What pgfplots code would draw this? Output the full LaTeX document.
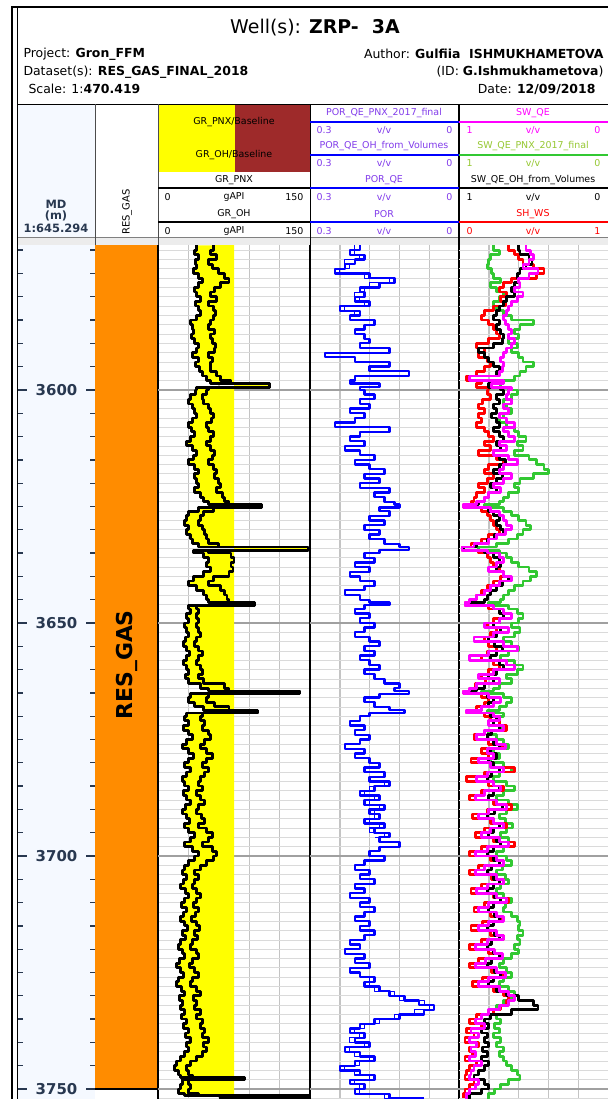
\documentclass[border=0pt]{standalone}
\usepackage{fontspec}
\setmainfont{DejaVu Sans}
\usepackage{pgfplots}
\usepackage{pgfplotstable}
\pgfplotsset{compat=1.18}

\definecolor{grYellow}{RGB}{255,255,0}
\definecolor{grBrown}{RGB}{158,42,42}
\definecolor{resOrange}{RGB}{255,140,0}
\definecolor{mdBack}{RGB}{245,249,255}
\definecolor{mdText}{RGB}{40,56,80}
\definecolor{porText}{RGB}{130,60,235}
\definecolor{swGreen}{RGB}{50,200,50}
\definecolor{swGreenText}{RGB}{150,200,50}
\definecolor{swMagenta}{RGB}{255,0,255}
\definecolor{gridMinor}{RGB}{218,218,218}
\definecolor{gridV}{RGB}{196,196,196}
\definecolor{gridMajor}{RGB}{160,160,160}
\definecolor{stripGray}{RGB}{236,236,236}

% gamma ray: GR_PNX (gr1) and GR_OH (gr2), gAPI
\pgfplotstableread{
depth gr1 gr2
3569 38 55
3570 36 52
3571 40 58
3572 37 50
3573 38 54
3574 35 60
3575 40 66
3576 44 70
3577 40 62
3578 36 56
3579 38 52
3580 42 58
3581 37 50
3582 40 55
3583 42 57
3584 38 55
3585 32 52
3586 34 50
3587 35 56
3588 33 52
3589 36 54
3590 40 57
3591 38 56
3592 34 50
3593 40 54
3594 37 52
3595 41 52
3596 44 58
3597 48 62
3598 52 72
3598.6 110 110
3599.4 38 50
3600 37 48
3601 32 44
3602 30 45
3603 34 50
3604 36 52
3605 38 55
3606 34 53
3607 30 48
3608 33 50
3609 36 55
3610 32 52
3611 28 48
3612 34 52
3613 38 56
3614 35 54
3615 30 50
3616 36 55
3617 40 58
3618 36 56
3619 38 60
3620 40 62
3621 36 58
3622 42 64
3623 45 66
3624 50 70
3624.6 102 102
3625.2 40 55
3626 30 45
3627 28 42
3628 26 40
3629 30 44
3630 28 46
3631 32 48
3632 34 50
3633 40 60
3633.7 148 148
3634.4 35 50
3635 45 72
3636 50 75
3637 48 72
3638 52 74
3639 45 70
3640 35 55
3641 30 50
3642 38 62
3643 45 66
3644 48 68
3645 50 70
3645.6 95 95
3646.2 30 38
3647 32 40
3648 28 38
3649 30 40
3650 26 38
3651 28 40
3652 30 42
3653 27 38
3654 25 36
3655 28 40
3656 31 44
3657 28 40
3658 25 38
3659 28 42
3660 30 44
3661 27 40
3662 30 45
3663 42 66
3664 50 70
3664.6 140 140
3665.2 32 50
3666 30 48
3667 36 56
3668 45 70
3668.7 98 98
3669.3 28 44
3670 26 42
3671 30 46
3672 25 44
3673 30 50
3674 34 52
3675 28 46
3676 24 42
3677 30 48
3678 35 54
3679 30 48
3680 26 44
3681 32 50
3682 28 46
3683 24 42
3684 26 40
3685 30 44
3686 25 38
3687 28 42
3688 32 46
3689 27 40
3690 24 38
3691 28 43
3692 31 46
3693 26 40
3694 30 48
3695 36 54
3696 32 50
3697 26 44
3698 34 54
3699 40 58
3700 36 55
3701 30 48
3702 26 42
3703 24 36
3704 28 40
3705 25 36
3706 22 34
3707 27 38
3708 30 42
3709 26 38
3710 23 35
3711 28 40
3712 25 37
3713 22 33
3714 26 38
3715 29 41
3716 24 36
3717 27 39
3718 22 34
3719 20 32
3720 24 38
3721 26 40
3722 21 34
3723 18 31
3724 22 36
3725 25 40
3726 20 34
3727 18 32
3728 23 38
3729 26 42
3730 21 35
3731 24 38
3732 22 36
3733 26 42
3734 23 38
3735 28 44
3736 25 42
3737 30 46
3738 27 44
3739 32 50
3740 28 45
3741 30 48
3742 26 44
3743 22 38
3744 18 32
3745 16 28
3746 20 30
3747 22 34
3747.5 85 85
3748 24 30
3749 22 32
3750 20 30
3751 26 40
3751.4 150 150
3752 60 80
}\grdata

% porosity, v/v
\pgfplotstableread{
depth por1 por2
3569 0.20 0.21
3570 0.22 0.21
3571 0.19 0.20
3572 0.21 0.23
3573 0.23 0.22
3574 0.25 0.24
3575 0.18 0.19
3576 0.13 0.14
3577 0.16 0.18
3578 0.20 0.19
3579 0.19 0.21
3580 0.21 0.20
3581 0.18 0.19
3582 0.24 0.23
3583 0.20 0.21
3584 0.22 0.20
3585 0.17 0.18
3586 0.19 0.20
3587 0.21 0.20
3588 0.19 0.18
3589 0.18 0.19
3590 0.20 0.21
3591 0.14 0.15
3592 0.27 0.25
3593 0.21 0.20
3594 0.14 0.15
3595 0.18 0.19
3596 0.10 0.12
3597 0.21 0.20
3598 0.22 0.21
3598.6 0.16 0.17
3599.4 0.20 0.21
3600 0.19 0.18
3601 0.17 0.18
3602 0.20 0.19
3603 0.18 0.19
3604 0.22 0.21
3605 0.19 0.20
3606 0.21 0.22
3607 0.25 0.24
3608 0.14 0.15
3609 0.20 0.19
3610 0.22 0.21
3611 0.19 0.20
3612 0.23 0.22
3613 0.20 0.21
3614 0.17 0.18
3615 0.21 0.20
3616 0.18 0.19
3617 0.15 0.16
3618 0.19 0.18
3619 0.16 0.17
3620 0.20 0.19
3621 0.14 0.15
3622 0.17 0.16
3623 0.15 0.16
3624 0.13 0.14
3624.6 0.12 0.11
3625.2 0.16 0.17
3626 0.14 0.15
3627 0.18 0.17
3628 0.15 0.16
3629 0.19 0.18
3630 0.16 0.17
3631 0.18 0.19
3632 0.15 0.16
3633 0.12 0.13
3633.7 0.10 0.09
3634.4 0.16 0.17
3635 0.19 0.18
3636 0.17 0.18
3637 0.21 0.20
3638 0.18 0.19
3639 0.22 0.21
3640 0.20 0.21
3641 0.17 0.18
3642 0.19 0.18
3643 0.23 0.22
3644 0.20 0.21
3645 0.18 0.17
3645.6 0.14 0.13
3646.2 0.19 0.20
3647 0.21 0.20
3648 0.18 0.19
3649 0.20 0.21
3650 0.17 0.18
3651 0.19 0.18
3652 0.21 0.20
3653 0.18 0.19
3654 0.16 0.17
3655 0.19 0.20
3656 0.17 0.16
3657 0.20 0.19
3658 0.18 0.19
3659 0.16 0.17
3660 0.19 0.18
3661 0.17 0.18
3662 0.15 0.16
3663 0.12 0.13
3664 0.13 0.12
3664.6 0.10 0.09
3665.2 0.16 0.17
3666 0.19 0.18
3667 0.17 0.18
3668 0.14 0.15
3668.7 0.11 0.12
3669.3 0.18 0.17
3670 0.20 0.19
3671 0.22 0.21
3672 0.19 0.20
3673 0.21 0.22
3674 0.18 0.19
3675 0.20 0.19
3676 0.23 0.22
3677 0.19 0.20
3678 0.21 0.20
3679 0.18 0.19
3680 0.16 0.17
3681 0.19 0.18
3682 0.15 0.16
3683 0.18 0.17
3684 0.14 0.15
3685 0.17 0.18
3686 0.20 0.19
3687 0.16 0.17
3688 0.19 0.18
3689 0.15 0.16
3690 0.18 0.17
3691 0.16 0.17
3692 0.19 0.18
3693 0.15 0.16
3694 0.17 0.18
3695 0.14 0.15
3696 0.16 0.17
3697 0.12 0.13
3698 0.16 0.15
3699 0.18 0.19
3700 0.15 0.16
3701 0.19 0.18
3702 0.21 0.20
3703 0.18 0.19
3704 0.20 0.21
3705 0.17 0.18
3706 0.21 0.20
3707 0.19 0.20
3708 0.22 0.21
3709 0.18 0.19
3710 0.20 0.19
3711 0.17 0.18
3712 0.19 0.20
3713 0.21 0.20
3714 0.18 0.19
3715 0.20 0.21
3716 0.17 0.18
3717 0.19 0.18
3718 0.22 0.21
3719 0.20 0.21
3720 0.23 0.22
3721 0.19 0.20
3722 0.21 0.20
3723 0.18 0.19
3724 0.22 0.21
3725 0.20 0.21
3726 0.17 0.18
3727 0.19 0.18
3728 0.16 0.17
3729 0.14 0.13
3730 0.11 0.12
3731 0.08 0.07
3732 0.05 0.06
3733 0.07 0.09
3734 0.12 0.13
3735 0.17 0.16
3736 0.20 0.19
3737 0.22 0.21
3738 0.19 0.20
3739 0.21 0.22
3740 0.18 0.19
3741 0.23 0.22
3742 0.20 0.21
3743 0.17 0.18
3744 0.21 0.20
3745 0.24 0.23
3746 0.20 0.21
3747 0.17 0.18
3748 0.22 0.21
3749 0.19 0.20
3750 0.21 0.20
3751 0.14 0.15
3752 0.07 0.08
}\pordata

% saturations, v/v: SW_QE_OH_from_Volumes, SW_QE_PNX_2017_final, SW_QE, SH_WS
\pgfplotstableread{
depth swoh swpnx swqe shws
3569 0.60 0.77 0.55 0.33
3570 0.59 0.73 0.52 0.37
3571 0.53 0.79 0.50 0.40
3572 0.51 0.80 0.53 0.43
3573 0.55 0.81 0.57 0.50
3574 0.59 0.78 0.47 0.57
3575 0.61 0.77 0.53 0.52
3576 0.60 0.72 0.60 0.35
3577 0.63 0.79 0.59 0.30
3578 0.65 0.75 0.63 0.27
3579 0.63 0.70 0.57 0.32
3580 0.68 0.73 0.61 0.28
3581 0.70 0.77 0.65 0.31
3582 0.73 0.75 0.67 0.23
3583 0.75 0.70 0.68 0.17
3584 0.77 0.65 0.70 0.15
3585 0.73 0.50 0.69 0.20
3586 0.75 0.59 0.67 0.23
3587 0.72 0.63 0.65 0.25
3588 0.70 0.60 0.67 0.27
3589 0.71 0.67 0.63 0.20
3590 0.77 0.61 0.65 0.12
3591 0.87 0.65 0.68 0.17
3592 0.83 0.60 0.70 0.13
3593 0.80 0.57 0.72 0.19
3594 0.77 0.50 0.70 0.21
3595 0.73 0.55 0.71 0.17
3596 0.75 0.59 0.73 0.12
3597 0.93 0.63 0.93 0.05
3598 0.73 0.70 0.70 0.15
3598.6 0.80 0.72 0.78 0.12
3599.4 0.72 0.67 0.65 0.20
3600 0.70 0.61 0.67 0.19
3601 0.75 0.65 0.68 0.21
3602 0.73 0.70 0.65 0.16
3603 0.77 0.68 0.70 0.13
3604 0.75 0.65 0.67 0.17
3605 0.78 0.70 0.73 0.13
3606 0.75 0.73 0.68 0.15
3607 0.73 0.68 0.63 0.12
3608 0.77 0.63 0.70 0.17
3609 0.73 0.60 0.67 0.20
3610 0.70 0.55 0.63 0.23
3611 0.75 0.61 0.73 0.17
3612 0.72 0.57 0.68 0.21
3613 0.77 0.63 0.77 0.13
3614 0.73 0.53 0.67 0.25
3615 0.69 0.48 0.61 0.30
3616 0.73 0.43 0.70 0.20
3617 0.77 0.40 0.73 0.17
3618 0.71 0.50 0.65 0.23
3619 0.75 0.59 0.70 0.19
3620 0.79 0.63 0.77 0.13
3621 0.75 0.60 0.72 0.17
3622 0.80 0.67 0.80 0.12
3623 0.83 0.70 0.83 0.10
3624 0.87 0.73 0.88 0.08
3624.6 0.95 0.83 0.97 0.03
3625.2 0.80 0.70 0.79 0.15
3626 0.77 0.65 0.73 0.19
3627 0.73 0.60 0.70 0.21
3628 0.75 0.55 0.68 0.23
3629 0.72 0.52 0.65 0.25
3630 0.70 0.57 0.69 0.27
3631 0.76 0.61 0.75 0.20
3632 0.81 0.67 0.80 0.15
3633 0.88 0.75 0.90 0.08
3633.7 0.97 0.87 0.98 0.02
3634.4 0.83 0.73 0.81 0.13
3635 0.77 0.68 0.73 0.19
3636 0.73 0.65 0.70 0.21
3637 0.72 0.60 0.75 0.23
3638 0.75 0.53 0.80 0.27
3639 0.70 0.48 0.70 0.30
3640 0.67 0.52 0.65 0.28
3641 0.71 0.57 0.73 0.23
3642 0.75 0.63 0.79 0.19
3643 0.79 0.67 0.83 0.15
3644 0.81 0.70 0.88 0.12
3645 0.83 0.72 0.93 0.08
3645.6 0.92 0.80 0.96 0.04
3646.2 0.77 0.67 0.77 0.20
3647 0.73 0.61 0.70 0.27
3648 0.70 0.57 0.65 0.30
3649 0.73 0.60 0.73 0.23
3650 0.77 0.65 0.83 0.19
3651 0.72 0.59 0.67 0.25
3652 0.75 0.63 0.77 0.21
3653 0.80 0.70 0.90 0.17
3654 0.76 0.65 0.70 0.20
3655 0.71 0.60 0.61 0.25
3656 0.75 0.67 0.80 0.19
3657 0.79 0.72 0.93 0.15
3658 0.73 0.63 0.68 0.23
3659 0.70 0.57 0.63 0.27
3660 0.75 0.61 0.77 0.20
3661 0.80 0.68 0.87 0.15
3662 0.77 0.65 0.73 0.18
3663 0.83 0.73 0.88 0.11
3664 0.88 0.77 0.93 0.07
3664.6 0.96 0.85 0.97 0.03
3665.2 0.81 0.70 0.80 0.15
3666 0.77 0.65 0.72 0.20
3667 0.80 0.68 0.77 0.17
3668 0.85 0.73 0.85 0.12
3668.7 0.93 0.81 0.95 0.05
3669.3 0.79 0.70 0.77 0.17
3670 0.75 0.73 0.73 0.21
3671 0.77 0.77 0.80 0.27
3672 0.73 0.71 0.70 0.32
3673 0.78 0.80 0.83 0.17
3674 0.81 0.75 0.88 0.10
3675 0.77 0.70 0.75 0.20
3676 0.73 0.67 0.69 0.29
3677 0.79 0.77 0.81 0.15
3678 0.75 0.73 0.77 0.20
3679 0.80 0.79 0.87 0.08
3680 0.77 0.70 0.79 0.23
3681 0.73 0.65 0.70 0.37
3682 0.78 0.73 0.81 0.17
3683 0.81 0.77 0.88 0.05
3684 0.77 0.68 0.77 0.20
3685 0.73 0.63 0.72 0.30
3686 0.77 0.70 0.83 0.15
3687 0.80 0.75 0.89 0.07
3688 0.75 0.67 0.75 0.23
3689 0.71 0.61 0.68 0.35
3690 0.76 0.68 0.80 0.19
3691 0.81 0.73 0.87 0.09
3692 0.77 0.69 0.77 0.21
3693 0.73 0.64 0.70 0.32
3694 0.77 0.68 0.79 0.17
3695 0.80 0.72 0.85 0.11
3696 0.75 0.67 0.73 0.23
3697 0.72 0.63 0.67 0.37
3698 0.77 0.70 0.81 0.15
3699 0.81 0.75 0.89 0.07
3700 0.77 0.68 0.75 0.21
3701 0.73 0.65 0.70 0.30
3702 0.78 0.71 0.83 0.13
3703 0.81 0.75 0.89 0.07
3704 0.77 0.69 0.75 0.22
3705 0.73 0.67 0.70 0.30
3706 0.77 0.72 0.81 0.15
3707 0.81 0.75 0.88 0.08
3708 0.76 0.70 0.75 0.23
3709 0.72 0.65 0.68 0.33
3710 0.77 0.69 0.80 0.17
3711 0.80 0.70 0.87 0.10
3712 0.76 0.65 0.75 0.21
3713 0.73 0.61 0.70 0.28
3714 0.77 0.59 0.80 0.16
3715 0.81 0.60 0.87 0.08
3716 0.76 0.57 0.75 0.21
3717 0.73 0.61 0.70 0.30
3718 0.78 0.59 0.81 0.15
3719 0.81 0.63 0.89 0.07
3720 0.77 0.60 0.76 0.20
3721 0.73 0.65 0.71 0.28
3722 0.78 0.70 0.82 0.13
3723 0.81 0.73 0.89 0.07
3724 0.76 0.68 0.75 0.22
3725 0.72 0.65 0.69 0.30
3726 0.77 0.70 0.80 0.16
3727 0.80 0.73 0.87 0.09
3728 0.75 0.67 0.73 0.23
3729 0.68 0.63 0.67 0.30
3730 0.60 0.65 0.63 0.33
3731 0.50 0.70 0.67 0.32
3732 0.47 0.75 0.73 0.28
3733 0.65 0.77 0.80 0.23
3734 0.79 0.75 0.85 0.12
3735 0.83 0.72 0.89 0.07
3736 0.80 0.76 0.83 0.15
3737 0.85 0.73 0.92 0.05
3738 0.81 0.77 0.87 0.10
3739 0.83 0.72 0.93 0.04
3740 0.80 0.75 0.88 0.13
3741 0.84 0.70 0.92 0.07
3742 0.81 0.73 0.89 0.09
3743 0.85 0.70 0.93 0.04
3744 0.80 0.68 0.85 0.12
3745 0.83 0.65 0.90 0.07
3746 0.87 0.61 0.92 0.05
3747 0.90 0.59 0.93 0.04
3748 0.83 0.67 0.87 0.10
3749 0.80 0.72 0.89 0.07
3750 0.85 0.76 0.93 0.04
3751 0.93 0.80 0.95 0.03
3752 0.95 0.81 0.96 0.03
}\swdata

\pgfplotsset{
  depthrange/.style={
    scale only axis, anchor=north west, height=854bp,
    ymin=3568.9, ymax=3752.15, y dir=reverse,
  },
  logtrack/.style={
    depthrange,
    separate axis lines,
    x axis line style={draw=none},
    y axis line style={black, line width=1.2bp},
    grid=major,
    major x grid style={gridV, line width=1.4bp},
    major y grid style={gridMinor, line width=0.7bp},
    ytick={3570,3572,...,3752},
    extra y ticks={3600,3650,3700,3750},
    extra y tick style={grid=major, major y grid style={gridMajor, line width=1.1bp}},
    xticklabels={}, yticklabels={}, extra y tick labels={},
    tick label style={inner sep=0pt, outer sep=0pt},
    major tick length=0pt,
  },
  hiddentrack/.style={depthrange, axis lines=none},
  curve/.style={const plot mark right, line join=round},
}

\newcommand{\hdr}{\fontsize{9.5}{10}\selectfont}

\begin{document}
\begin{tikzpicture}
\path[use as bounding box] (0,0) rectangle (608bp,-1099bp);

\begin{scope}[x=1bp, y=-1bp]
  \fill[white] (0,0) rectangle (608,1099);
  % frame
  \draw[line width=2.5bp] (12,6) -- (12,1099);
  \draw[line width=2bp] (11,7) -- (608,7);
  \draw[line width=0.8bp] (17.5,8) -- (17.5,1099);
  % title block
  \node[font=\fontsize{19}{20}\selectfont] at (315,28) {Well(s): \textbf{ZRP-~~3A}};
  \begin{scope}[font=\fontsize{12.5}{13}\selectfont]
    \node[anchor=west] at (20,54) {Project: \textbf{Gron\_FFM}};
    \node[anchor=west] at (20,72) {Dataset(s): \textbf{RES\_GAS\_FINAL\_2018}};
    \node[anchor=west] at (25,89) {Scale: 1:\textbf{470.419}};
    \node[anchor=east] at (607,54) {Author: \textbf{Gulfiia~~ISHMUKHAMETOVA}};
    \node[anchor=east] at (607,72) {(ID: \textbf{G.Ishmukhametova})};
    \node[anchor=east] at (599,89) {Date: \textbf{12/09/2018}};
  \end{scope}
  \draw[line width=1bp] (17.5,104) -- (608,104);
  % track headers
  \fill[mdBack] (18,104.5) rectangle (95,237);
  \fill[grYellow] (158.5,104.5) rectangle (235,172);
  \fill[grBrown] (235,104.5) rectangle (310,172);
  \fill[stripGray] (18,237) rectangle (608,245);
  \draw[gray, line width=0.6bp] (18,237) -- (608,237);
  \draw[black!70, line width=0.8bp] (95,104) -- (95,245);
  \draw[black!70, line width=0.8bp] (158,104) -- (158,245);
  \draw[black, line width=1bp] (310,104) -- (310,245);
  \draw[black, line width=1.6bp] (459,104) -- (459,245);
  % depth header
  \begin{scope}[font=\fontsize{11.5}{12}\selectfont\bfseries, text=mdText]
    \node at (56,204) {MD};
    \node at (56,216) {(m)};
    \node at (56,228) {1:645.294};
  \end{scope}
  \node[rotate=90, font=\fontsize{10}{10}\selectfont, anchor=east] at (127,186) {RES\_GAS};
  % GR header
  \begin{scope}[font=\hdr]
    \node at (234,122) {GR\_PNX/Baseline};
    \node at (234,155) {GR\_OH/Baseline};
    \node at (234,180) {GR\_PNX};
    \draw[line width=2.5bp] (158,188) -- (310,188);
    \node[anchor=west] at (161,197) {0};
    \node at (234,197) {gAPI};
    \node[anchor=east] at (307,197) {150};
    \node at (234,214) {GR\_OH};
    \draw[line width=2.5bp] (158,222) -- (310,222);
    \node[anchor=west] at (161,231) {0};
    \node at (234,231) {gAPI};
    \node[anchor=east] at (307,231) {150};
  \end{scope}
  % POR header
  \begin{scope}[font=\hdr, text=porText]
    \node at (384,113) {POR\_QE\_PNX\_2017\_final};
    \draw[blue, line width=1.5bp] (310,122) -- (459,122);
    \node[anchor=west] at (313,130) {0.3};
    \node at (384,130) {v/v};
    \node[anchor=east] at (456,130) {0};
    \node at (384,146) {POR\_QE\_OH\_from\_Volumes};
    \draw[blue, line width=1.5bp] (310,155) -- (459,155);
    \node[anchor=west] at (313,163) {0.3};
    \node at (384,163) {v/v};
    \node[anchor=east] at (456,163) {0};
    \node at (384,180) {POR\_QE};
    \draw[blue, line width=1.5bp] (310,188) -- (459,188);
    \node[anchor=west] at (313,197) {0.3};
    \node at (384,197) {v/v};
    \node[anchor=east] at (456,197) {0};
    \node at (384,214) {POR};
    \draw[blue, line width=1.5bp] (310,222) -- (459,222);
    \node[anchor=west] at (313,231) {0.3};
    \node at (384,231) {v/v};
    \node[anchor=east] at (456,231) {0};
  \end{scope}
  % SW header
  \begin{scope}[font=\hdr]
    \node[text=swMagenta] at (533,113) {SW\_QE};
    \draw[swMagenta, line width=2bp] (459,122) -- (608,122);
    \node[anchor=west, text=swMagenta] at (463,130) {1};
    \node[text=swMagenta] at (533,130) {v/v};
    \node[anchor=east, text=swMagenta] at (604,130) {0};
    \node[text=swGreenText] at (533,146) {SW\_QE\_PNX\_2017\_final};
    \draw[swGreen, line width=2bp] (459,155) -- (608,155);
    \node[anchor=west, text=swGreenText] at (463,163) {1};
    \node[text=swGreenText] at (533,163) {v/v};
    \node[anchor=east, text=swGreenText] at (604,163) {0};
    \node at (533,180) {SW\_QE\_OH\_from\_Volumes};
    \draw[black, line width=2bp] (459,188) -- (608,188);
    \node[anchor=west] at (463,197) {1};
    \node at (533,197) {v/v};
    \node[anchor=east] at (604,197) {0};
    \node[text=red] at (533,214) {SH\_WS};
    \draw[red, line width=2bp] (459,222) -- (608,222);
    \node[anchor=west, text=red] at (463,231) {0};
    \node[text=red] at (533,231) {v/v};
    \node[anchor=east, text=red] at (604,231) {1};
  \end{scope}
\end{scope}

% depth track
\begin{axis}[depthrange, at={(18bp,-245bp)}, width=77bp,
  xmin=0, xmax=1,
  axis background/.style={fill=mdBack},
  axis line style={draw=none},
  xtick=\empty, ytick={3570,3575,...,3750}, yticklabels={},
  ytick pos=both, tick align=inside, major tick length=5bp,
  tick style={mdText, line width=1.3bp},
  extra y ticks={3600,3650,3700,3750}, extra y tick labels={},
  extra y tick style={major tick length=9bp},
  tick label style={inner sep=0pt, outer sep=0pt},
  clip=false]
  \pgfplotsinvokeforeach{3600,3650,3700,3750}{
    \node[font=\fontsize{15}{15}\selectfont\bfseries, text=mdText] at (axis cs:0.5,#1) {#1};
  }
\end{axis}

% zone track
\begin{axis}[depthrange, at={(95bp,-245bp)}, width=63bp, xmin=0, xmax=1, axis lines=none]
  \addplot[fill=resOrange, draw=none] coordinates {(0,3568.9) (1,3568.9) (1,3750) (0,3750)};
  \addplot[black, line width=1.2bp] coordinates {(0,3750) (1,3750)};
  \node[rotate=90, font=\fontsize{22}{22}\selectfont\bfseries] at (axis cs:0.5,3659) {RES\_GAS};
\end{axis}

% gamma ray track: GR_PNX shaded to the 75 gAPI baseline
\begin{axis}[logtrack, at={(158bp,-245bp)}, width=152bp,
  xmin=0, xmax=150, xtick={30,60,90,120}]
  \addplot[fill=grYellow, draw=none, curve] table[x=gr1, y=depth] {\grdata}
    -- (axis cs:75,3752.15) -- (axis cs:75,3568.9) -- cycle;
  \addplot[black, line width=2.8bp, curve] table[x=gr2, y=depth] {\grdata};
  \addplot[black, line width=2.8bp, curve] table[x=gr1, y=depth] {\grdata};
\end{axis}

% porosity track: the second log separates from the first only in a few intervals
\begin{axis}[logtrack, at={(310bp,-245bp)}, width=149bp,
  xmin=0, xmax=0.3, x dir=reverse, xtick={0.06,0.12,0.18,0.24}]
  \addplot[blue, line width=1.1bp, curve, restrict y to domain=3569:3584] table[x=por2, y=depth] {\pordata};
  \addplot[blue, line width=1.1bp, curve, restrict y to domain=3684:3696] table[x=por2, y=depth] {\pordata};
  \addplot[blue, line width=1.1bp, curve, restrict y to domain=3726:3752] table[x=por2, y=depth] {\pordata};
  \addplot[blue, line width=2.3bp, curve] table[x=por1, y=depth] {\pordata};
\end{axis}

% saturation track
\begin{axis}[logtrack, at={(459bp,-245bp)}, width=149bp,
  xmin=0, xmax=1, x dir=reverse, xtick={0.2,0.4,0.6,0.8},
  y axis line style={draw=none}]
  \addplot[swGreen, line width=2.8bp, curve] table[x=swpnx, y=depth] {\swdata};
\end{axis}
\begin{axis}[hiddentrack, at={(459bp,-245bp)}, width=149bp, xmin=0, xmax=1]
  \addplot[red, line width=2.8bp, curve] table[x=shws, y=depth] {\swdata};
\end{axis}
\begin{axis}[hiddentrack, at={(459bp,-245bp)}, width=149bp, xmin=0, xmax=1, x dir=reverse]
  \addplot[black, line width=2.8bp, curve] table[x=swoh, y=depth] {\swdata};
  \addplot[swMagenta, line width=2.8bp, curve] table[x=swqe, y=depth] {\swdata};
\end{axis}
\end{tikzpicture}
\end{document}
